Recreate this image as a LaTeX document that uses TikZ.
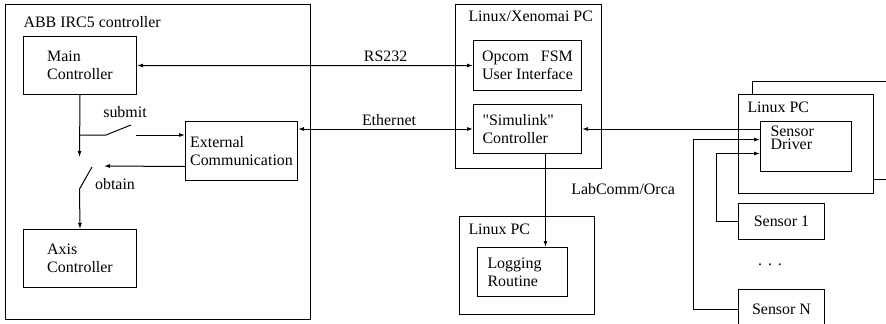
\documentclass[tikz,border=0pt]{standalone}
\usepackage{fontspec}
\setmainfont{Liberation Serif}[Ligatures=TeXOff]
\usetikzlibrary{arrows.meta,positioning}

\begin{document}
\begin{tikzpicture}[x=1bp,y=-1bp,line width=1bp,>={Latex[length=6bp,width=4bp]},font=\fontsize{16}{18}\selectfont]
	\tikzstyle{blk} = [draw,anchor=north west,align=left,inner sep=2bp]
	\tikzstyle{ttl} = [anchor=base west,inner sep=0pt]
	\useasboundingbox (0,0) rectangle (886,323);
		
		% ABB controller
		\node[blk,minimum width=305bp,minimum height=315bp](abb) at (5,4){};
		\node[ttl](abbt) at (23,27){ABB IRC5 controller};
		\node[blk,minimum width=113bp,minimum height=58bp](main) at (23,36){Main\\Controller};
		\node[blk,minimum width=113bp,minimum height=58bp](axis) at (23,229){Axis\\Controller};
		\node[blk,minimum width=112bp,minimum height=59bp](ext) at (185,121){External\\Communication};
		
		% Xenomai PC
		\node[blk,minimum width=146bp,minimum height=164bp](xeno) at (455,4){};
		\node[ttl](xenot) at (468,21){Linux/Xenomai PC};
		\node[blk,minimum width=108bp,minimum height=50bp](opcom) at (473,40){Opcom\hspace{0.75em}FSM\\User Interface};
		\node[blk,minimum width=108bp,minimum height=49bp,text width=90bp](sim) at ([yshift=-13bp]opcom.south west){"Simulink"\\Controller};
		
		% logging PC
		\node[blk,minimum width=135bp,minimum height=98bp](logpc) at (459,216){};
		\node[ttl](logpct) at (468,234){Linux PC};
		\node[blk,minimum width=90bp,minimum height=49bp,text width=70bp](log) at ([xshift=18bp,yshift=-31bp]logpc.north west){Logging\\Routine};
		
		% sensor PC
		\node[blk,fill=white,minimum width=170bp,minimum height=98bp](senbk) at (752,81){};
		\node[blk,fill=white,minimum width=135bp,minimum height=99bp](senpc) at (738,94){};
		\node[ttl](senpct) at (747,112){Linux PC};
		\node[blk,minimum width=91bp,minimum height=50bp](drv) at ([xshift=22bp,yshift=-27bp]senpc.north west){};
		\node[anchor=north west,inner sep=0pt,align=left,font=\fontsize{16}{13}\selectfont](drvt) at ([xshift=10bp,yshift=-4bp]drv.north west){Sensor\\Driver};
		\node[blk,minimum width=86bp,minimum height=36bp](s1) at ([yshift=-9bp]senpc.south west){Sensor 1};
		\node[blk,minimum width=86bp,minimum height=40bp](sN) at ([yshift=-49bp]s1.south west){Sensor N};
		\node[anchor=base,inner sep=0pt](dots) at (770,265){.\kern6bp.\kern6bp.};
		
		% switches
		\coordinate (gap) at (79.5,157);
		\coordinate (tap) at (79.5,135);
		\coordinate (s1a) at (106,135);
		\coordinate (s1b) at (131,125);
		\coordinate (s1c) at (136,135);
		\coordinate (s2a) at (92,167);
		\coordinate (s2b) at (79.5,189);
		\coordinate (s2c) at (104,166);
		\node(submit) at (125,112){submit};
		\node(obtain) at (115,184){obtain};
		
		\draw[->](main.south) -- (gap);
		\draw(tap) -- (s1a) -- (s1b);
		\draw[->](s1c) -- (s1c -| ext.west);
		\draw[->]([yshift=-15.5bp]ext.west) -- (s2c);
		\draw[->](s2a) -- (s2b) -- (axis.north);
		
		% links
		\draw[<->](main.east) -- node[above,pos=0.74](rs){RS232} (opcom.west);
		\draw[<->](sim.west -| ext.east) -- node[above,pos=0.52](eth){Ethernet} (sim.west);
		\draw[->](drv.west |- sim.east) -- (sim.east);
		\coordinate (lcotop) at ([xshift=18bp]sim.south);
		\draw[->](lcotop) -- node[pos=0.38,right,xshift=22bp](lco){LabComm/Orca} (lcotop |- log.north);
		\draw[->](sN.west) -- ++(-45,0) |- ([yshift=7bp]drv.west);
		\draw[->](s1.west) -- ++(-22,0) |- ([yshift=-7bp]drv.west);
\end{tikzpicture}
\end{document}
